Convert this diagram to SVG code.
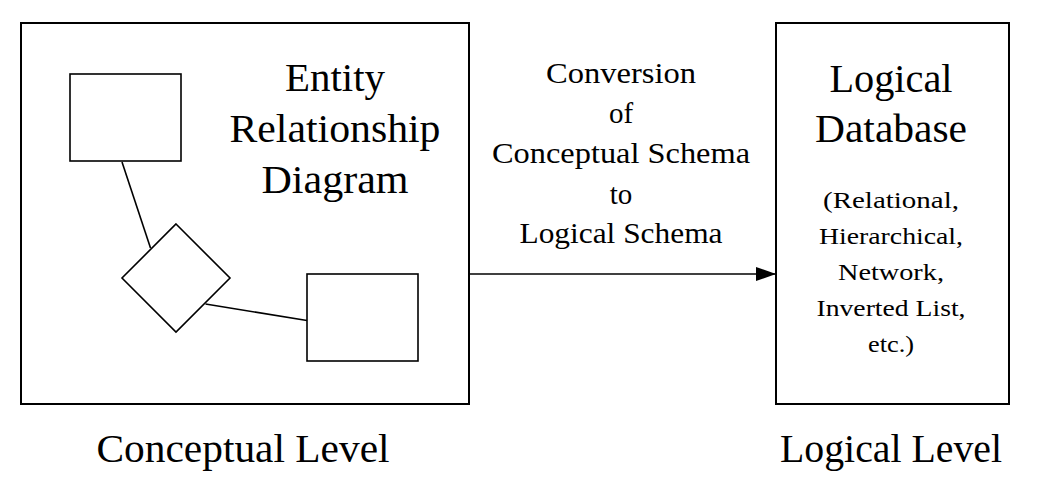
<svg xmlns="http://www.w3.org/2000/svg" width="1046" height="492" viewBox="0 0 1046 492">
<style>
.box{fill:#fff;stroke:#000;stroke-width:2}
.shape{fill:#fff;stroke:#000;stroke-width:1.6}
.ln{stroke:#000;stroke-width:1.6;fill:none}
text{font-family:"Liberation Serif","Times New Roman",serif;fill:#000;text-anchor:middle}
.big{font-size:40px}
.mid{font-size:29px}
.sm{font-size:23px}
</style>
<defs>
<marker id="arr" markerUnits="userSpaceOnUse" markerWidth="20" markerHeight="14" refX="20" refY="7" orient="auto">
<path d="M0,0 L20,7 L0,14 Z" fill="#000"/>
</marker>
</defs>
<rect width="1046" height="492" fill="#fff"/>
<g id="conceptual">
<rect class="box" x="21" y="23" width="448" height="381"/>
<text class="big" x="335" y="91" textLength="100" lengthAdjust="spacingAndGlyphs">Entity</text>
<text class="big" x="335" y="142" textLength="211" lengthAdjust="spacingAndGlyphs">Relationship</text>
<text class="big" x="335" y="193" textLength="147" lengthAdjust="spacingAndGlyphs">Diagram</text>
</g>
<g id="entity1"><rect class="shape" x="70" y="74" width="111" height="87"/></g>
<g id="relationship"><path class="shape" d="M176,224 L230,278 L176,332 L122,278 Z"/></g>
<g id="entity2"><rect class="shape" x="307" y="274" width="111" height="87"/></g>
<g id="logical">
<rect class="box" x="776" y="23" width="233" height="381"/>
<text class="big" x="891" y="92" textLength="123" lengthAdjust="spacingAndGlyphs">Logical</text>
<text class="big" x="891" y="142" textLength="152" lengthAdjust="spacingAndGlyphs">Database</text>
<text class="sm" x="891" y="208" textLength="136" lengthAdjust="spacingAndGlyphs">(Relational,</text>
<text class="sm" x="891" y="244" textLength="144" lengthAdjust="spacingAndGlyphs">Hierarchical,</text>
<text class="sm" x="891" y="280" textLength="106" lengthAdjust="spacingAndGlyphs">Network,</text>
<text class="sm" x="891" y="316" textLength="149" lengthAdjust="spacingAndGlyphs">Inverted List,</text>
<text class="sm" x="891" y="352" textLength="46" lengthAdjust="spacingAndGlyphs">etc.)</text>
</g>
<g id="connectors">
<line class="ln" x1="122" y1="162" x2="150.5" y2="248"/>
<line class="ln" x1="205.5" y1="304" x2="307" y2="320.5"/>
<line class="ln" x1="469" y1="274" x2="776" y2="274" marker-end="url(#arr)"/>
</g>
<g id="conversion-label">
<text class="mid" x="621" y="83" textLength="150" lengthAdjust="spacingAndGlyphs">Conversion</text>
<text class="mid" x="621" y="123">of</text>
<text class="mid" x="621" y="163" textLength="258" lengthAdjust="spacingAndGlyphs">Conceptual Schema</text>
<text class="mid" x="621" y="204">to</text>
<text class="mid" x="621" y="243" textLength="203" lengthAdjust="spacingAndGlyphs">Logical Schema</text>
</g>
<g id="level-labels">
<text class="big" x="243" y="462" textLength="293" lengthAdjust="spacingAndGlyphs">Conceptual Level</text>
<text class="big" x="891" y="462" textLength="222" lengthAdjust="spacingAndGlyphs">Logical Level</text>
</g>
</svg>
